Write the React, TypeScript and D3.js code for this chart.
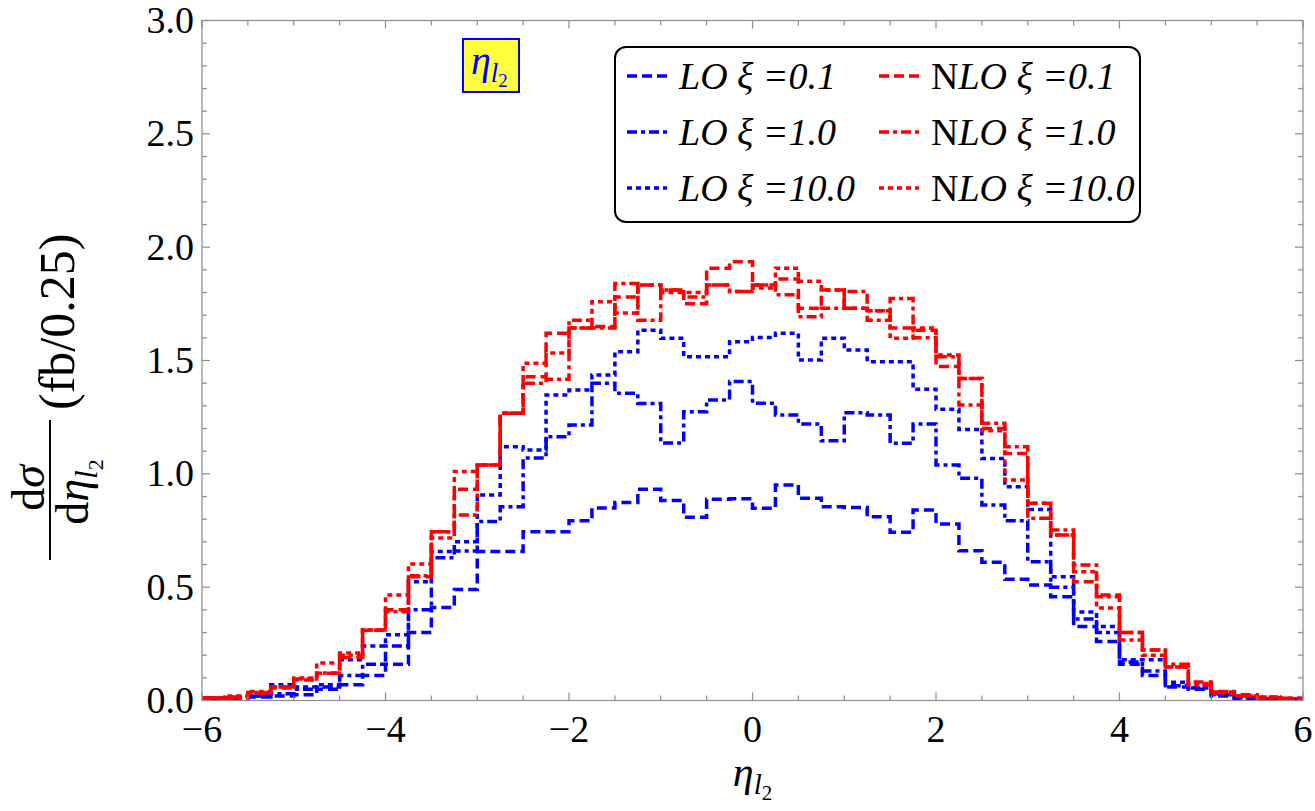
import { useEffect, useRef } from 'react';
import * as d3 from 'd3';

// histogram bins of width 0.25 over eta in [-6, 6]
const binWidth = 0.25;
const binStarts = d3.range(48).map((i) => -6 + i * binWidth);

const loXi01 = [
  0.01, 0.01, 0.015, 0.02, 0.025, 0.05, 0.07, 0.11, 0.16, 0.30, 0.41, 0.49,
  0.657, 0.657, 0.745, 0.745, 0.793, 0.849, 0.873, 0.932, 0.882, 0.808, 0.888, 0.89,
  0.848, 0.951, 0.892, 0.855, 0.852, 0.811, 0.742, 0.84, 0.779, 0.661, 0.61, 0.535,
  0.51, 0.458, 0.326, 0.26, 0.16, 0.11, 0.06, 0.05, 0.02, 0.01, 0.005, 0.005,
];
const loXi1 = [
  0.01, 0.01, 0.02, 0.03, 0.05, 0.06, 0.11, 0.16, 0.24, 0.40, 0.63, 0.66,
  0.79, 0.855, 1.07, 1.164, 1.215, 1.40, 1.356, 1.31, 1.136, 1.274, 1.326, 1.407,
  1.311, 1.26, 1.22, 1.146, 1.27, 1.26, 1.135, 1.22, 1.039, 0.98, 0.862, 0.793,
  0.612, 0.50, 0.36, 0.30, 0.17, 0.13, 0.065, 0.055, 0.025, 0.012, 0.006, 0.005,
];
const loXi10 = [
  0.01, 0.015, 0.02, 0.07, 0.06, 0.07, 0.18, 0.24, 0.29, 0.524, 0.657, 0.70,
  0.907, 1.12, 1.105, 1.348, 1.37, 1.436, 1.539, 1.634, 1.598, 1.517, 1.517, 1.583,
  1.602, 1.62, 1.502, 1.598, 1.546, 1.495, 1.495, 1.373, 1.285, 1.196, 1.068, 0.943,
  0.843, 0.546, 0.39, 0.326, 0.18, 0.18, 0.08, 0.06, 0.03, 0.015, 0.008, 0.006,
];
const nloXi01 = [
  0.01, 0.015, 0.03, 0.055, 0.09, 0.12, 0.19, 0.31, 0.40, 0.546, 0.745, 0.932,
  1.039, 1.267, 1.428, 1.62, 1.643, 1.65, 1.78, 1.833, 1.811, 1.75, 1.907, 1.936,
  1.833, 1.86, 1.73, 1.811, 1.73, 1.72, 1.643, 1.634, 1.473, 1.421, 1.2, 1.09,
  0.87, 0.73, 0.524, 0.465, 0.30, 0.223, 0.148, 0.082, 0.037, 0.025, 0.015, 0.01,
];
const nloXi1 = [
  0.01, 0.01, 0.035, 0.06, 0.095, 0.121, 0.20, 0.311, 0.392, 0.55, 0.745, 0.818,
  1.039, 1.267, 1.40, 1.417, 1.678, 1.643, 1.84, 1.678, 1.811, 1.78, 1.833, 1.804,
  1.833, 1.79, 1.693, 1.73, 1.804, 1.678, 1.774, 1.60, 1.517, 1.304, 1.223, 1.12,
  0.804, 0.752, 0.598, 0.458, 0.267, 0.223, 0.16, 0.068, 0.04, 0.02, 0.012, 0.008,
];
const nloXi10 = [
  0.012, 0.02, 0.04, 0.061, 0.099, 0.165, 0.21, 0.311, 0.465, 0.602, 0.717, 1.01,
  1.039, 1.267, 1.488, 1.533, 1.643, 1.759, 1.71, 1.833, 1.80, 1.80, 1.833, 1.804,
  1.82, 1.907, 1.85, 1.811, 1.73, 1.72, 1.598, 1.643, 1.524, 1.421, 1.19, 0.973,
  0.87, 0.73, 0.568, 0.408, 0.30, 0.20, 0.148, 0.075, 0.03, 0.02, 0.015, 0.01,
];

const xTicks = [-6, -4, -2, 0, 2, 4, 6];
const yTicks = [0, 0.5, 1.0, 1.5, 2.0, 2.5, 3.0];

const dashed = '10 5';
const dotDashed = '10 4 4 4';
const dotted = '5 4';

const series = [
  { key: 'LO', xi: '0.1', values: loXi01, color: '#0000ff', dash: dashed },
  { key: 'LO', xi: '1.0', values: loXi1, color: '#0000ff', dash: dotDashed },
  { key: 'LO', xi: '10.0', values: loXi10, color: '#0000ff', dash: dotted },
  { key: 'NLO', xi: '0.1', values: nloXi01, color: '#ff0000', dash: dashed },
  { key: 'NLO', xi: '1.0', values: nloXi1, color: '#ff0000', dash: dotDashed },
  { key: 'NLO', xi: '10.0', values: nloXi10, color: '#ff0000', dash: dotted },
];

const EtaChart = () => {
  const svgRef = useRef(null);

  useEffect(() => {
    const width = 1315;
    const height = 811;
    const margin = { top: 20.5, right: 12, bottom: 110.5, left: 202 };
    const serif = '"Liberation Serif", "DejaVu Serif", serif';
    const axisColor = '#8c8c8c';

    const svg = d3.select(svgRef.current).attr('width', width).attr('height', height);
    svg.selectAll('*').remove();

    const x = d3.scaleLinear().domain([-6, 6]).range([margin.left, width - margin.right]);
    const y = d3.scaleLinear().domain([0, 3]).range([height - margin.bottom, margin.top]);

    svg.append('rect').attr('width', width).attr('height', height).attr('fill', '#fff');

    // histogram step lines
    const line = d3
      .line<[number, number]>()
      .x((d) => x(d[0]))
      .y((d) => y(d[1]))
      .curve(d3.curveStepAfter);

    const plot = svg.append('g');
    series.forEach((s) => {
      const pts: [number, number][] = s.values.map((v, i) => [binStarts[i], v]);
      pts.push([binStarts[binStarts.length - 1] + binWidth, s.values[s.values.length - 1]]);
      plot
        .append('path')
        .datum(pts)
        .attr('fill', 'none')
        .attr('stroke', s.color)
        .attr('stroke-width', 3.5)
        .attr('stroke-dasharray', s.dash)
        .attr('d', line);
    });

    // frame with inward ticks on all four sides
    const frame = svg.append('g').attr('stroke', axisColor).attr('stroke-width', 1.2);
    const [x0, x1] = x.range();
    const [yb, yt] = y.range();
    frame
      .append('rect')
      .attr('x', x0)
      .attr('y', yt)
      .attr('width', x1 - x0)
      .attr('height', yb - yt)
      .attr('fill', 'none');

    const xMinor = d3.range(-6, 6.001, 0.5);
    xMinor.forEach((t) => {
      const len = xTicks.includes(t) ? 8 : 5;
      frame.append('line').attr('x1', x(t)).attr('x2', x(t)).attr('y1', yb).attr('y2', yb - len);
      frame.append('line').attr('x1', x(t)).attr('x2', x(t)).attr('y1', yt).attr('y2', yt + len);
    });
    const yMinor = d3.range(0, 3.001, 0.1);
    yMinor.forEach((t) => {
      const major = yTicks.some((m) => Math.abs(m - t) < 1e-6);
      const len = major ? 8 : 5;
      frame.append('line').attr('x1', x0).attr('x2', x0 + len).attr('y1', y(t)).attr('y2', y(t));
      frame.append('line').attr('x1', x1).attr('x2', x1 - len).attr('y1', y(t)).attr('y2', y(t));
    });

    // tick labels
    svg
      .append('g')
      .selectAll('text')
      .data(xTicks)
      .join('text')
      .attr('x', (d) => x(d))
      .attr('y', 742)
      .attr('text-anchor', 'middle')
      .attr('font-family', serif)
      .attr('font-size', 38)
      .text((d) => (d < 0 ? `\u2212${-d}` : `${d}`));

    svg
      .append('g')
      .selectAll('text')
      .data(yTicks)
      .join('text')
      .attr('x', 194)
      .attr('y', (d) => y(d))
      .attr('dy', '0.33em')
      .attr('text-anchor', 'end')
      .attr('font-family', serif)
      .attr('font-size', 38)
      .text((d) => d.toFixed(1));

    // x axis title
    const xt = svg
      .append('text')
      .attr('x', x(0))
      .attr('y', 786)
      .attr('text-anchor', 'middle')
      .attr('font-family', serif)
      .attr('font-size', 42)
      .attr('font-style', 'italic');
    xt.append('tspan').text('\u03b7');
    xt.append('tspan').attr('font-size', 29).attr('dy', 8).text('l');
    xt.append('tspan').attr('font-size', 21).attr('dy', 6).attr('font-style', 'normal').text('2');

    // y axis title: d sigma / d eta_l2 (fb/0.25)
    const yl = svg.append('g').attr('transform', 'translate(50,490) rotate(-90)').attr('font-family', serif);
    const num = yl.append('text').attr('x', 2).attr('y', -6).attr('text-anchor', 'middle').attr('font-size', 46);
    num.append('tspan').text('d');
    num.append('tspan').attr('font-style', 'italic').text('\u03c3');
    yl.append('line').attr('x1', -70).attr('x2', 70).attr('y1', 0).attr('y2', 0).attr('stroke', '#000').attr('stroke-width', 2);
    const den = yl.append('text').attr('x', -2).attr('y', 38).attr('text-anchor', 'middle').attr('font-size', 46);
    den.append('tspan').text('d');
    den.append('tspan').attr('font-style', 'italic').text('\u03b7');
    den.append('tspan').attr('font-style', 'italic').attr('font-size', 31).attr('dy', 9).text('l');
    den.append('tspan').attr('font-size', 22).attr('dy', 6).text('2');
    yl.append('text').attr('x', 80).attr('y', 24).attr('font-size', 50).text('(fb/0.25)');

    // observable tag
    svg
      .append('rect')
      .attr('x', 463)
      .attr('y', 39)
      .attr('width', 56)
      .attr('height', 53)
      .attr('fill', '#ffff40')
      .attr('stroke', '#0000ff')
      .attr('stroke-width', 2);
    const tag = svg
      .append('text')
      .attr('x', 471)
      .attr('y', 74)
      .attr('fill', '#0000ff')
      .attr('font-family', serif)
      .attr('font-size', 40)
      .attr('font-style', 'italic');
    tag.append('tspan').text('\u03b7');
    tag.append('tspan').attr('font-size', 27).attr('dy', 8).text('l');
    tag.append('tspan').attr('font-size', 19).attr('dy', 5).attr('font-style', 'normal').text('2');

    // legend
    const lg = svg.append('g');
    lg.append('rect')
      .attr('x', 615)
      .attr('y', 47)
      .attr('width', 525)
      .attr('height', 175)
      .attr('rx', 11)
      .attr('fill', '#fff')
      .attr('stroke', '#000')
      .attr('stroke-width', 2);
    series.forEach((s, i) => {
      const col = s.key === 'LO' ? 0 : 1;
      const row = i % 3;
      const sx = col === 0 ? 627 : 879;
      const cy = 76 + row * 56;
      lg.append('line')
        .attr('x1', sx)
        .attr('x2', sx + 40)
        .attr('y1', cy)
        .attr('y2', cy)
        .attr('stroke', s.color)
        .attr('stroke-width', 3.5)
        .attr('stroke-dasharray', s.dash);
      const t = lg
        .append('text')
        .attr('x', sx + 52)
        .attr('y', cy + 13)
        .attr('font-family', serif)
        .attr('font-size', 38)
        .attr('font-style', 'italic');
      if (s.key === 'NLO') t.append('tspan').attr('font-style', 'normal').text('N');
      t.append('tspan').text('LO ');
      t.append('tspan').text(`\u03be =${s.xi}`);
    });
  }, []);

  return <svg ref={svgRef} style={{ position: 'absolute', left: 0, top: 0 }}></svg>;
};

export default function App() {
  return <EtaChart />;
}
